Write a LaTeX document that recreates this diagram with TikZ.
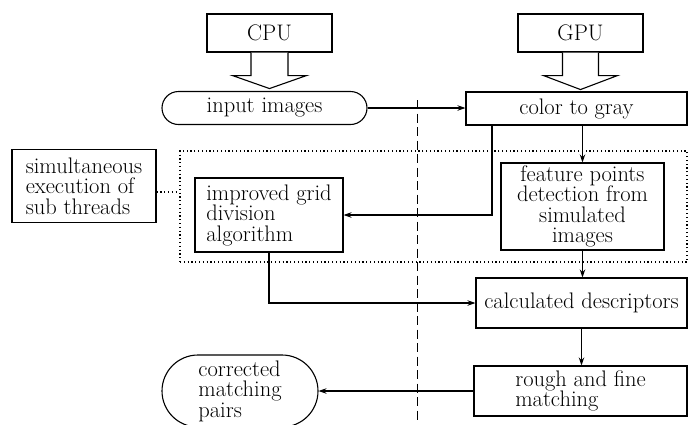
\documentclass[tikz,border=0pt]{standalone}
\usetikzlibrary{arrows.meta}
\begin{document}
\begin{tikzpicture}[x=1pt,y=-1pt,
  font=\fontsize{22.5}{20.5}\selectfont,
  box/.style={draw, line width=1.1pt, inner sep=0pt, align=center},
  arr/.style={-{Stealth[length=8pt,width=5.5pt]}, line width=1.1pt},
  hollow/.style={line width=1.1pt, fill=white},
  dotline/.style={line width=1.4pt, dash pattern=on 1.2pt off 2.6pt},
  dashline/.style={line width=0.9pt, dash pattern=on 9pt off 4.5pt}]
\useasboundingbox (0,0) rectangle (689,424);

\node[box, minimum width=125pt, minimum height=38pt] (cpu) at (269.5,33) {CPU};
\node[box, minimum width=125pt, minimum height=38pt] (gpu) at (580.5,33) {GPU};
\node[box, rounded corners=16.5pt, minimum width=205pt, minimum height=33pt] (input) at (264.5,108) {input images};
\node[box, minimum width=221pt, minimum height=33pt] (color) at (576.5,108.5) {color to gray};
\node[draw, dotline, minimum width=507pt, minimum height=111pt, inner sep=0pt] (grp) at (433.5,206.5) {};
\node[box, align=left, minimum width=144pt, minimum height=73pt] (simul) at (84,186) {simultaneous\\execution of\\sub threads};
\node[box, align=left, minimum width=148pt, minimum height=74pt] (improved) at (269,215) {improved grid\\division\\algorithm};
\node[box, minimum width=163pt, minimum height=87pt] (feature) at (582.5,206.5) {feature points\\detection from\\simulated\\images};
\node[box, minimum width=211pt, minimum height=50pt] (calc) at (581.5,303) {calculated descriptors};
\node[box, align=left, minimum width=213pt, minimum height=50pt] (rough) at (580.5,391) {rough and fine\\matching};
\node[box, align=left, rounded corners=36pt, minimum width=156pt, minimum height=72pt] (corr) at (240,391) {corrected\\matching\\pairs};

\coordinate (dtop) at (417,100);
\coordinate (dbot) at (417,424);
\draw[dashline] (dtop) -- (dbot);

\draw[hollow] ([xshift=-18.5pt]cpu.south) -- ++(0,23) -- ++(-18.5,0) -- ++(37,13) -- ++(37,-13) -- ++(-18.5,0) -- ++(0,-23);
\draw[hollow] ([xshift=-18pt]gpu.south) -- ++(0,23) -- ++(-19,0) -- ++(37,14) -- ++(37,-14) -- ++(-19,0) -- ++(0,-23);

\draw[arr] (input.east) -- (input.east -| color.west);
\draw[arr] ([xshift=-84.5pt]color.south) |- (improved.east);
\draw[arr] (color.south -| feature.north) -- (feature.north);
\draw[arr] (feature.south) -- (feature.south |- calc.north);
\draw[arr] (improved.south) |- (calc.west);
\draw[arr] (calc.south) -- (calc.south |- rough.north);
\draw[arr] (rough.west) -- (corr.east);
\draw[dotline] ([yshift=-6pt]simul.east) -- ([yshift=-6pt]simul.east -| grp.west);
\end{tikzpicture}
\end{document}
